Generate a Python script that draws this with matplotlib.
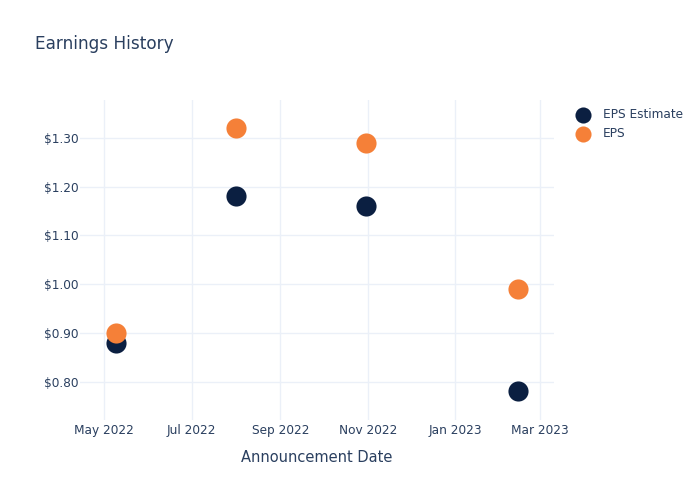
import datetime as dt
import matplotlib
matplotlib.use("Agg")
import matplotlib.pyplot as plt
import matplotlib.dates as mdates
from matplotlib.ticker import FuncFormatter

dates = [dt.date(2022, 5, 9), dt.date(2022, 8, 1), dt.date(2022, 10, 31), dt.date(2023, 2, 14)]
eps_estimate = [0.88, 1.18, 1.16, 0.78]
eps_actual = [0.90, 1.32, 1.29, 0.99]

text_color = "#2a3f5f"
grid_color = "#ebf0f8"
navy = "#0b1f41"
orange = "#f58038"

fig = plt.figure(figsize=(7, 5), dpi=100)
ax = fig.add_axes([80 / 700, 1 - 420 / 500, (554 - 80) / 700, 320 / 500])

ax.scatter(dates, eps_estimate, s=210, color=navy, zorder=3, linewidths=0, label="EPS Estimate")
ax.scatter(dates, eps_actual, s=210, color=orange, zorder=3, linewidths=0, label="EPS")

ax.set_xlim(dt.date(2022, 4, 14), dt.date(2023, 3, 11))
ax.set_ylim(0.7215, 1.3775)
ax.xaxis.set_major_locator(mdates.MonthLocator(bymonth=[1, 3, 5, 7, 9, 11]))
ax.xaxis.set_major_formatter(mdates.DateFormatter("%b %Y"))
ax.set_yticks([0.8, 0.9, 1.0, 1.1, 1.2, 1.3])
ax.yaxis.set_major_formatter(FuncFormatter(lambda v, p: f"${v:.2f}"))

ax.grid(True, color=grid_color, linewidth=1)
ax.set_axisbelow(True)
for s in ax.spines.values():
    s.set_visible(False)
ax.tick_params(length=0, colors=text_color, labelsize=8.7)
ax.tick_params(axis="x", pad=3)
ax.tick_params(axis="y", pad=1)

ax.set_xlabel("Announcement Date", fontsize=10.5, color=text_color, labelpad=9)
fig.text(35 / 700, 1 - 44 / 500, "Earnings History", fontsize=12.2, color=text_color, va="center")

leg = ax.legend(loc="upper left", bbox_to_anchor=(1.012, 1.01), frameon=False,
                fontsize=8.7, labelcolor=text_color, handletextpad=0.7,
                labelspacing=0.55, scatterpoints=1, markerscale=0.8)

fig.savefig("out.png", dpi=100)
